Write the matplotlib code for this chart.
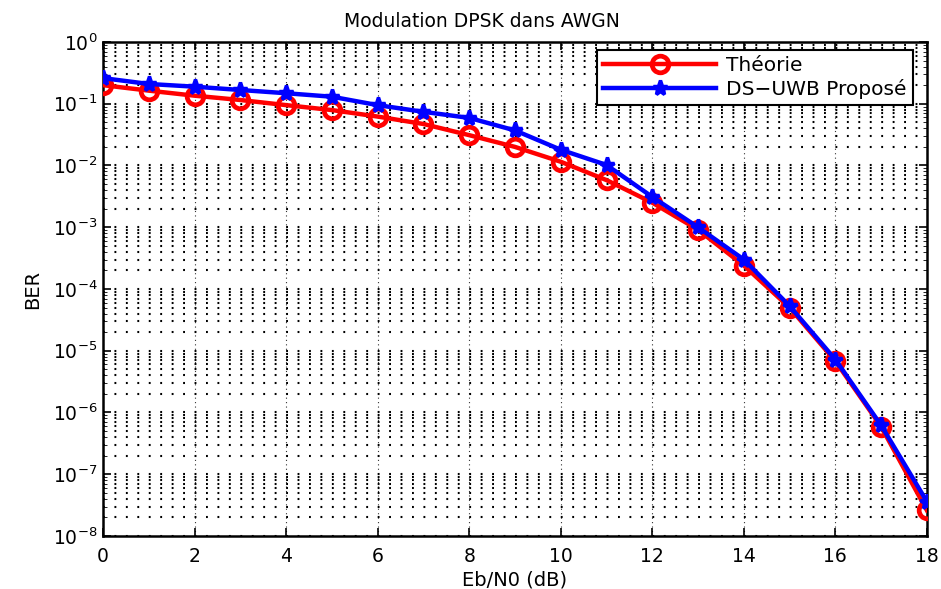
import matplotlib
matplotlib.use("Agg")
import matplotlib.pyplot as plt
from matplotlib.ticker import FixedLocator, MultipleLocator, NullFormatter

plt.rcParams['font.family'] = ['DejaVu Sans']
plt.rcParams['mathtext.fontset'] = 'dejavusans'

ebn0 = list(range(0, 19))
ber_theorie = [0.20, 0.163, 0.135, 0.115, 0.095, 0.079, 0.062, 0.047, 0.031, 0.020,
               0.0115, 0.0058, 0.0025, 9.1e-4, 2.4e-4, 5.0e-5, 6.8e-6, 5.9e-7, 2.6e-8]
ber_dsuwb = [0.26, 0.209, 0.189, 0.167, 0.148, 0.130, 0.095, 0.074, 0.059, 0.037,
             0.018, 0.0102, 0.0031, 1.0e-3, 3.0e-4, 5.3e-5, 7.2e-6, 6.2e-7, 3.6e-8]
decades = list(range(-8, 1))

label_theorie = "Théorie"
label_dsuwb = "DS\u2212UWB Proposé"
title = "Modulation DPSK dans AWGN"
xlabel = "Eb/N0 (dB)"
ylabel = "BER"

fig = plt.figure(figsize=(9.41, 5.89), dpi=100)
ax = fig.add_axes([0.1095, 0.09, 0.8755, 0.8387])

ax.semilogy(ebn0, ber_theorie, color='#ff0000', linewidth=3.2, marker='o',
            markersize=12, markerfacecolor='none', markeredgewidth=3.4,
            markeredgecolor='#ff0000', label=label_theorie, zorder=3)
ax.semilogy(ebn0, ber_dsuwb, color='#0000ff', linewidth=3.2, marker='*',
            markersize=11, markeredgewidth=2.5, markeredgecolor='#0000ff',
            label=label_dsuwb, zorder=4)

ax.set_xlim(0, 18)
ax.set_ylim(1e-8, 1)
ax.xaxis.set_major_locator(MultipleLocator(2))
ax.yaxis.set_major_locator(FixedLocator([10.0 ** k for k in decades]))
ax.yaxis.set_minor_locator(FixedLocator([m * 10.0 ** k for k in decades[:-1] for m in range(2, 10)]))
ax.yaxis.set_minor_formatter(NullFormatter())
ax.set_yticklabels([r'$10^{%d}$' % k for k in decades])

# horizontal grid: dotted with dots every 0.25 x-units (~11.45 px = 8.24 pt)
glw = 1.5
period = 8.24 / glw
ax.yaxis.grid(True, which='both', color='black', linestyle=(0, (0.9, period - 0.9)), linewidth=glw)
ax.xaxis.grid(True, which='major', color='#333333', linestyle=(0, (1, 3)), linewidth=0.8)

ax.tick_params(which='both', direction='in', top=True, right=True, labelsize=13.5)
ax.tick_params(which='major', length=6, width=1.2)
ax.tick_params(axis='x', which='major', pad=8)
ax.tick_params(axis='y', which='major', pad=4)
ax.tick_params(axis='y', which='minor', length=3)
for s in ax.spines.values():
    s.set_linewidth(1.8)

ax.set_title(title, fontsize=13.5, pad=11, x=0.46)
ax.set_xlabel(xlabel, fontsize=14, labelpad=3)
ax.set_ylabel(ylabel, fontsize=14, labelpad=8)

leg = ax.legend(loc='upper right', fontsize=14.5, fancybox=False, framealpha=1,
                edgecolor='black', borderpad=0.3, handlelength=5.6,
                handletextpad=0.5, labelspacing=0.2, borderaxespad=0,
                bbox_to_anchor=(0.983, 0.984))
leg.get_frame().set_linewidth(1.5)

fig.savefig("out.png", dpi=100)
